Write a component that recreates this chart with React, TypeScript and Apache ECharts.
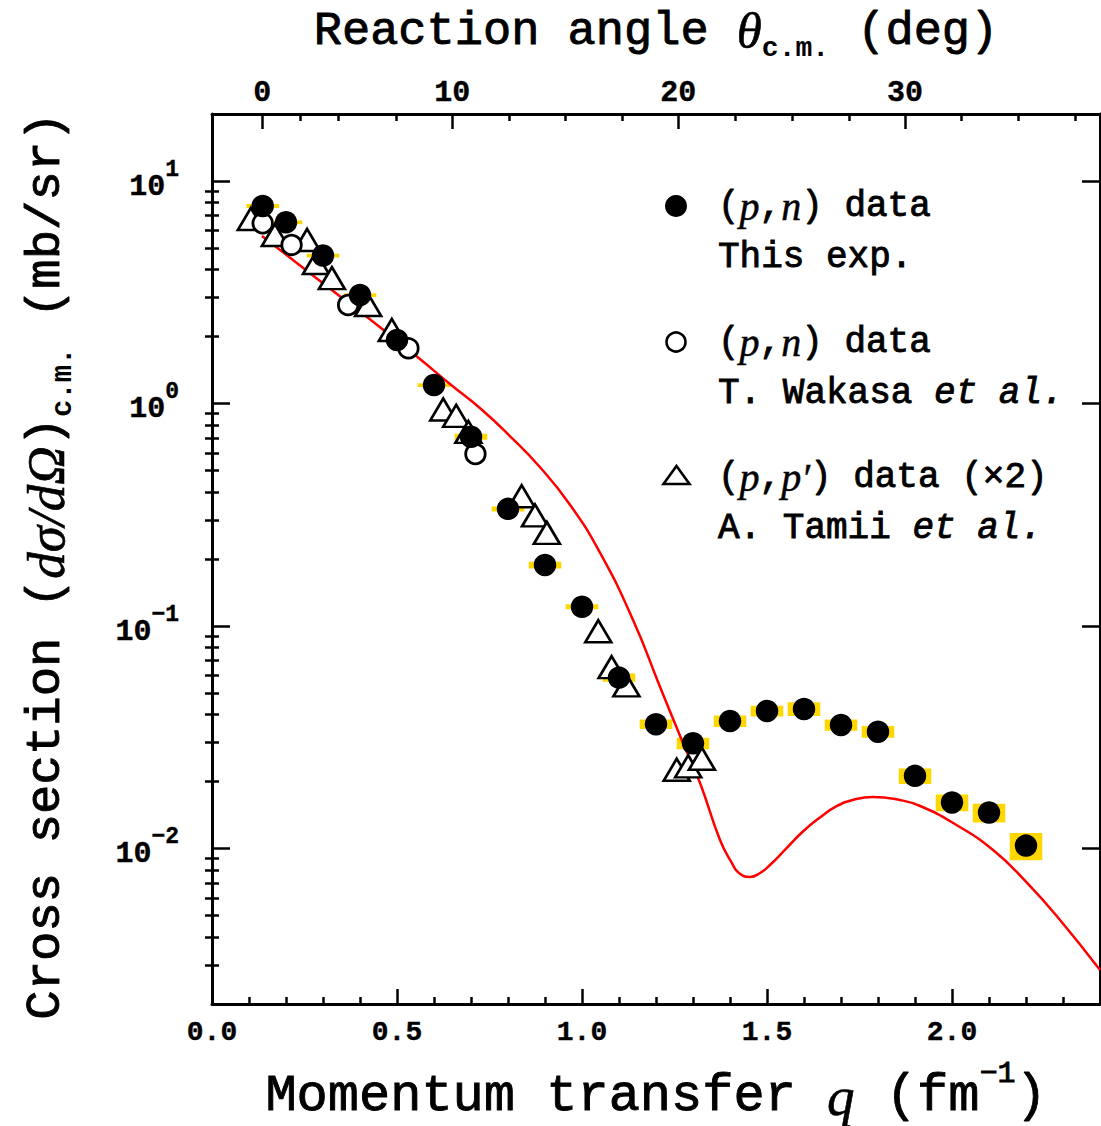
import React, { useEffect, useRef } from 'react';
import * as echarts from 'echarts';

// ---------------- data ----------------
// (p,n) data, this experiment
const thisExpQ = [0.137, 0.2, 0.3, 0.4, 0.5, 0.6, 0.7, 0.8, 0.9, 1.0, 1.1, 1.2, 1.3, 1.4, 1.5, 1.6, 1.7, 1.8, 1.9, 2.0, 2.1, 2.2];
const thisExpXs = [7.72, 6.52, 4.62, 3.07, 1.93, 1.21, 0.709, 0.336, 0.188, 0.122, 0.0586, 0.0362, 0.0297, 0.0374, 0.0415, 0.0424, 0.0359, 0.0335, 0.0212, 0.0161, 0.0145, 0.0103];
// systematic uncertainty (percent) drawn as yellow boxes
const thisExpSysErrPct = [2, 2, 2, 2, 2, 2, 3, 2.6, 3.5, 2.6, 4.3, 5, 6, 6, 5.5, 7, 5.7, 6, 8, 8.6, 9.7, 14];

// (p,n) data, T. Wakasa et al.
const wakasaQ = [0.137, 0.215, 0.368, 0.531, 0.712];
const wakasaXs = [6.45, 5.16, 2.77, 1.77, 0.593];

// (p,p') data (x2), A. Tamii et al.
const tamiiQ = [0.105, 0.17, 0.257, 0.281, 0.324, 0.422, 0.486, 0.625, 0.66, 0.693, 0.837, 0.873, 0.905, 1.044, 1.08, 1.12, 1.256, 1.287, 1.324];
const tamiiXs = [6.75, 5.72, 5.43, 4.28, 3.66, 2.77, 2.14, 0.94, 0.88, 0.745, 0.383, 0.314, 0.262, 0.0947, 0.0653, 0.0541, 0.0226, 0.0234, 0.0253];

// theoretical curve
const theoryQ = [0.135, 0.184, 0.278, 0.373, 0.468, 0.562, 0.643, 0.724, 0.805, 0.886, 0.968, 1.049, 1.138, 1.211, 1.273, 1.319, 1.373, 1.405, 1.424, 1.454, 1.481, 1.508, 1.551, 1.597, 1.643, 1.687, 1.732, 1.786, 1.859, 1.914, 2.003, 2.111, 2.203, 2.292, 2.4];
const theoryXs = [5.66, 4.9, 3.7, 2.8, 2.11, 1.585, 1.224, 0.954, 0.714, 0.518, 0.35, 0.213, 0.1064, 0.0532, 0.0298, 0.0197, 0.01092, 0.00861, 0.00776, 0.00745, 0.00776, 0.00843, 0.00995, 0.01192, 0.01378, 0.01545, 0.01652, 0.01704, 0.01652, 0.01552, 0.01302, 0.00985, 0.007, 0.00477, 0.00284];

// top axis: reaction angle (deg) and its position in q
const angleMajorDeg = [0, 10, 20, 30];
const angleMajorQ = [0.136, 0.649, 1.26, 1.873];
const angleMinorQ = [0.238, 0.341, 0.497, 0.803, 0.956, 1.109, 1.414, 1.568, 1.722, 2.026, 2.179, 2.332];

// y axis ticks
const xsMajorTicks = [0.01, 0.1, 1, 10];
const xsMinorTicks = [0.001, 0.01, 0.1, 1]
  .flatMap((d) => [2, 3, 4, 5, 6, 7, 8, 9].map((m) => +(m * d).toPrecision(3)))
  .filter((v) => v > 0.002 && v < 20);

// ---------------- style ----------------
const MONO = "'Liberation Mono', 'DejaVu Sans Mono', monospace";
const SERIF = "'Liberation Serif', 'DejaVu Serif', serif";
const BOX_HALF_WIDTH_Q = 0.044;
const Y_MIN = 0.002;
const Y_MAX = 20;
const axisLineStyle = { color: '#000', width: 3 };
const tickStyle = { color: '#000', width: 2.5 };
const THICK = { stroke: '#000', lineWidth: 0.9 };

const boxData = thisExpQ.map((q, i) => {
  const e = thisExpSysErrPct[i] / 100;
  return [q, thisExpXs[i] * (1 - e), thisExpXs[i] * (1 + e)];
});

function logLabel(v: number) {
  const e = Math.round(Math.log10(v));
  const s = e < 0 ? '\u2212' + String(-e) : String(e);
  return '{b|10}{s|' + s + '}';
}

function angleLabel(v: number) {
  let best = 0;
  for (let i = 1; i < angleMajorQ.length; i++) {
    if (Math.abs(angleMajorQ[i] - v) < Math.abs(angleMajorQ[best] - v)) best = i;
  }
  return String(angleMajorDeg[best]);
}

const logAxisBase = {
  type: 'log',
  logBase: 10,
  min: Y_MIN,
  max: Y_MAX,
  gridIndex: 0,
  splitLine: { show: false },
  minorSplitLine: { show: false },
};

const legendTextRich = {
  r: { fontFamily: MONO, fontSize: 36, fill: '#000', ...THICK },
  i: { fontFamily: SERIF, fontStyle: 'italic', fontSize: 40, fill: '#000', stroke: '#000', lineWidth: 0.5 },
  e: { fontFamily: MONO, fontStyle: 'italic', fontSize: 36, fill: '#000', ...THICK },
};

function legendText(x: number, y: number, text: string) {
  return {
    type: 'text',
    x,
    y,
    silent: true,
    style: { text, align: 'left', verticalAlign: 'middle', rich: legendTextRich },
  };
}

const tickFont = {
  color: '#000',
  fontFamily: MONO,
  fontWeight: 'bold',
  fontSize: 29,
  textBorderColor: '#000',
  textBorderWidth: 0.4,
};

const option: any = {
  animation: false,
  backgroundColor: '#fff',
  textStyle: { fontFamily: MONO, color: '#000' },
  grid: { left: 212, top: 114, width: 888, height: 890, containLabel: false, outerBoundsMode: 'none' },
  xAxis: [
    {
      type: 'value',
      position: 'bottom',
      min: 0,
      max: 2.4,
      interval: 0.5,
      axisLine: { show: true, onZero: false, lineStyle: axisLineStyle },
      axisTick: { show: true, inside: true, length: 15, lineStyle: tickStyle },
      minorTick: { show: true, splitNumber: 5, length: 7, lineStyle: tickStyle },
      axisLabel: {
        show: true,
        showMaxLabel: false,
        margin: 14,
        formatter: (v: number) => v.toFixed(1),
        ...tickFont,
        fontSize: 28,
      },
      splitLine: { show: false },
      minorSplitLine: { show: false },
    },
    {
      type: 'value',
      position: 'top',
      min: 0,
      max: 2.4,
      axisLine: { show: true, onZero: false, lineStyle: axisLineStyle },
      axisTick: { show: true, inside: true, length: 15, customValues: angleMajorQ, lineStyle: tickStyle },
      axisLabel: {
        show: true,
        customValues: angleMajorQ,
        margin: 6,
        formatter: angleLabel,
        ...tickFont,
        fontSize: 30,
      },
      splitLine: { show: false },
    },
    {
      type: 'value',
      position: 'top',
      min: 0,
      max: 2.4,
      axisLine: { show: false },
      axisTick: { show: true, inside: true, length: 7, customValues: angleMinorQ, lineStyle: tickStyle },
      axisLabel: { show: false },
      splitLine: { show: false },
    },
  ],
  yAxis: [
    {
      ...logAxisBase,
      position: 'left',
      axisLine: { show: true, onZero: false, lineStyle: axisLineStyle },
      axisTick: { show: true, inside: true, length: 18, customValues: xsMajorTicks, lineStyle: tickStyle },
      axisLabel: {
        show: true,
        customValues: xsMajorTicks,
        margin: 33,
        formatter: logLabel,
        rich: {
          b: { ...tickFont, fontSize: 30, padding: [12, 0, 0, 0] },
          s: { ...tickFont, fontSize: 23, padding: [0, 0, 22, 0] },
        },
      },
    },
    {
      ...logAxisBase,
      position: 'left',
      axisLine: { show: false },
      axisTick: { show: true, inside: true, length: 7, customValues: xsMinorTicks, lineStyle: tickStyle },
      axisLabel: { show: false },
    },
    {
      ...logAxisBase,
      position: 'right',
      axisLine: { show: true, onZero: false, lineStyle: axisLineStyle },
      axisTick: { show: true, inside: true, length: 18, customValues: xsMajorTicks, lineStyle: tickStyle },
      axisLabel: { show: false },
    },
    {
      ...logAxisBase,
      position: 'right',
      axisLine: { show: false },
      axisTick: { show: true, inside: true, length: 7, customValues: xsMinorTicks, lineStyle: tickStyle },
      axisLabel: { show: false },
    },
  ],
  series: [
    {
      type: 'custom',
      name: 'systematic uncertainty',
      xAxisIndex: 0,
      yAxisIndex: 0,
      data: boxData,
      encode: { x: 0, y: [1, 2] },
      silent: true,
      z: 1,
      renderItem: (params: any, api: any) => {
        const q = api.value(0);
        const lo = api.value(1);
        const hi = api.value(2);
        const p1 = api.coord([q - BOX_HALF_WIDTH_Q, hi]);
        const p2 = api.coord([q + BOX_HALF_WIDTH_Q, lo]);
        return {
          type: 'rect',
          shape: { x: p1[0], y: p1[1], width: p2[0] - p1[0], height: p2[1] - p1[1] },
          style: { fill: '#FFD700' },
        };
      },
    },
    {
      type: 'line',
      name: 'theory',
      xAxisIndex: 0,
      yAxisIndex: 0,
      data: theoryQ.map((q, i) => [q, theoryXs[i]]),
      showSymbol: false,
      symbol: 'none',
      smooth: 0.5,
      lineStyle: { color: '#ff0000', width: 2.5 },
      z: 2,
      silent: true,
    },
    {
      type: 'scatter',
      name: "(p,p') data (x2) A. Tamii et al.",
      xAxisIndex: 0,
      yAxisIndex: 0,
      data: tamiiQ.map((q, i) => [q, tamiiXs[i]]),
      symbol: 'triangle',
      symbolSize: [26, 22],
      itemStyle: { color: '#fff', borderColor: '#000', borderWidth: 2.6, opacity: 1 },
      z: 3,
      silent: true,
    },
    {
      type: 'scatter',
      name: '(p,n) data T. Wakasa et al.',
      xAxisIndex: 0,
      yAxisIndex: 0,
      data: wakasaQ.map((q, i) => [q, wakasaXs[i]]),
      symbol: 'circle',
      symbolSize: 19.5,
      itemStyle: { color: '#fff', borderColor: '#000', borderWidth: 2.8, opacity: 1 },
      z: 4,
      silent: true,
    },
    {
      type: 'scatter',
      name: '(p,n) data This exp.',
      xAxisIndex: 0,
      yAxisIndex: 0,
      data: thisExpQ.map((q, i) => [q, thisExpXs[i]]),
      symbol: 'circle',
      symbolSize: 22.5,
      itemStyle: { color: '#000', opacity: 1 },
      z: 5,
      silent: true,
    },
  ],
  graphic: [
    // axis titles
    {
      type: 'text',
      x: 656,
      y: 31,
      silent: true,
      style: {
        text: '{t|Reaction angle }{m|\u03b8}{sub|c.m.}{t|\u00a0(deg)}',
        align: 'center',
        verticalAlign: 'middle',
        rich: {
          t: { fontFamily: MONO, fontSize: 47, fill: '#000', ...THICK },
          m: { fontFamily: SERIF, fontStyle: 'italic', fontSize: 51, fill: '#000', stroke: '#000', lineWidth: 0.6 },
          sub: { fontFamily: MONO, fontWeight: 'bold', fontSize: 28, fill: '#000', padding: [34, 0, 0, 0] },
        },
      },
    },
    {
      type: 'text',
      x: 656,
      y: 1096,
      silent: true,
      style: {
        text: '{t|Momentum transfer }{m|q}{t|\u00a0(fm}{sup|\u22121}{t|)}',
        align: 'center',
        verticalAlign: 'middle',
        rich: {
          t: { fontFamily: MONO, fontSize: 52, fill: '#000', ...THICK },
          m: { fontFamily: SERIF, fontStyle: 'italic', fontSize: 55, fill: '#000', stroke: '#000', lineWidth: 0.6 },
          sup: { fontFamily: MONO, fontSize: 30, fill: '#000', padding: [0, 0, 44, 0], ...THICK },
        },
      },
    },
    {
      type: 'text',
      x: 46,
      y: 566,
      rotation: Math.PI / 2,
      silent: true,
      style: {
        text: '{t|Cross section (}{m|d\u03c3/d\u03a9}{t|)}{sub|c.m.}{t|\u00a0(mb/sr)}',
        align: 'center',
        verticalAlign: 'middle',
        rich: {
          t: { fontFamily: MONO, fontSize: 49, fill: '#000', ...THICK },
          m: { fontFamily: SERIF, fontStyle: 'italic', fontSize: 53, fill: '#000', stroke: '#000', lineWidth: 0.6 },
          sub: { fontFamily: MONO, fontWeight: 'bold', fontSize: 29, fill: '#000', padding: [34, 0, 0, 0] },
        },
      },
    },
    // legend
    { type: 'circle', silent: true, shape: { cx: 676, cy: 206, r: 11 }, style: { fill: '#000' } },
    legendText(718, 206, '{r|(}{i|p}{r|,}{i|n}{r|) data}'),
    legendText(718, 257, '{r|This exp.}'),
    { type: 'circle', silent: true, shape: { cx: 676, cy: 342, r: 9.5 }, style: { fill: '#fff', stroke: '#000', lineWidth: 2.6 } },
    legendText(718, 342, '{r|(}{i|p}{r|,}{i|n}{r|) data}'),
    legendText(718, 393, '{r|T. Wakasa }{e|et al.}'),
    {
      type: 'polygon',
      silent: true,
      shape: { points: [[676.5, 466], [689.5, 484], [663.5, 484]] },
      style: { fill: '#fff', stroke: '#000', lineWidth: 2.6 },
    },
    legendText(718, 477, '{r|(}{i|p}{r|,}{i|p\u2032}{r|) data (\u00d72)}'),
    legendText(718, 528, '{r|A. Tamii }{e|et al.}'),
  ],
};

export default function App() {
  const ref = useRef<HTMLDivElement>(null);
  useEffect(() => {
    if (!ref.current) return;
    const chart = echarts.init(ref.current, null, { renderer: 'svg' });
    chart.setOption(option);
    return () => {
      chart.dispose();
    };
  }, []);
  return (
    <div
      ref={ref}
      style={{ position: 'fixed', left: 0, top: 0, width: 1101, height: 1126, background: '#fff' }}
    />
  );
}
